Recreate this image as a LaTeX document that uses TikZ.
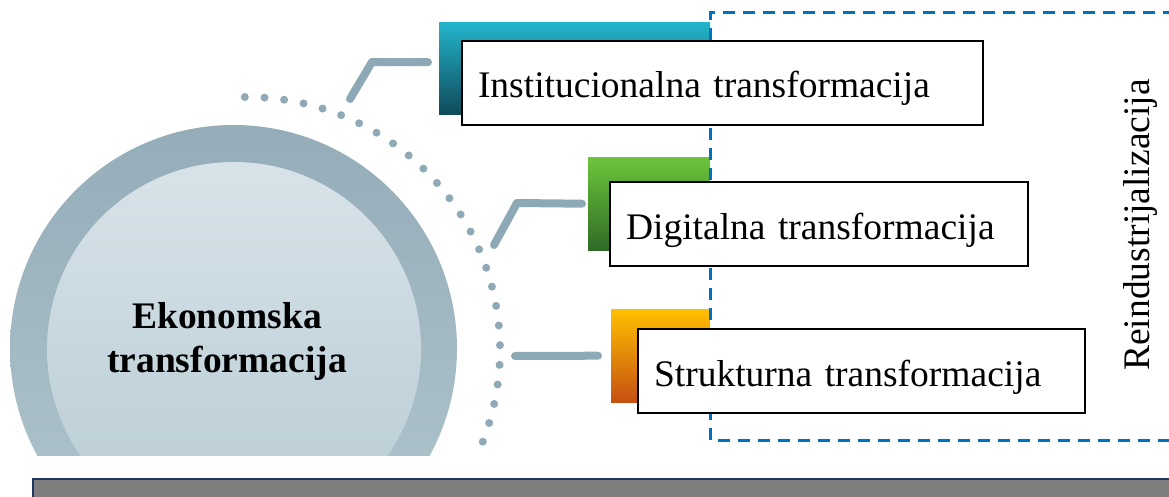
\documentclass[tikz,border=0pt]{standalone}
\usepackage{fontspec}
\setmainfont{Liberation Serif}
\definecolor{ringtop}{HTML}{94ADB9}
\definecolor{ringbot}{HTML}{B2C6CE}
\definecolor{innertop}{HTML}{D8E3E9}
\definecolor{innerbot}{HTML}{B6CAD3}
\definecolor{dotc}{HTML}{8FA9B6}
\definecolor{connc}{HTML}{8EA9B6}
\definecolor{tealtop}{HTML}{23B5CB}
\definecolor{tealbot}{HTML}{0F4A5A}
\definecolor{greentop}{HTML}{6DC53B}
\definecolor{greenbot}{HTML}{2F6B26}
\definecolor{orangetop}{HTML}{FFC000}
\definecolor{orangebot}{HTML}{C65012}
\definecolor{dashblue}{HTML}{0070C0}
\definecolor{barfill}{HTML}{7F7F7F}
\definecolor{barline}{HTML}{1F3864}
\tikzset{
  conn/.style={draw=connc, line width=8pt, line cap=round, line join=round},
  boxnode/.style={draw=black, line width=2pt, fill=white, anchor=north west,
    inner xsep=16pt, inner ysep=10pt, text height=47pt, text depth=17pt,
    align=left, font=\fontsize{37.5}{45}\selectfont},
  sqnode/.style={anchor=north west, inner sep=0pt, draw=none},
  bluedash/.style={draw=dashblue, line width=3pt, dash pattern=on 12pt off 8pt},
}
\begin{document}
\begin{tikzpicture}[x=1pt,y=-1pt]
\useasboundingbox (0,0) rectangle (1169,497);
\begin{scope}
\clip (0,0) rectangle (1169,497);
% central circle
\begin{scope}
\clip (0,0) rectangle (1169,455);
\node[circle, minimum size=447pt, inner sep=0pt, top color=ringtop, bottom color=ringbot] (outer) at (233.5,348.5) {};
\node[circle, minimum size=374pt, inner sep=0pt, top color=innertop, bottom color=innerbot] (inner) at (234,349) {};
\end{scope}
\node[align=center, font=\bfseries\fontsize{37.5}{44}\selectfont, inner sep=0pt] (ekon) at (227,341) {Ekonomska\\transformacija};
% dotted arc
\foreach \i in {0,...,25} {
  \fill[dotc] ({247+253*cos(90.5-4.47*\i)},{350-253*sin(90.5-4.47*\i)}) circle[radius=4pt];
}
% coloured squares
\node[sqnode, minimum width=271pt, minimum height=92pt, top color=tealtop, bottom color=tealbot] (s1) at (439,22) {};
\node[sqnode, minimum width=122pt, minimum height=93pt, top color=greentop, bottom color=greenbot] (s2) at (588,157) {};
\node[sqnode, minimum width=99pt, minimum height=93pt, top color=orangetop, bottom color=orangebot] (s3) at (611,309) {};
% dashed frame
\coordinate (dtr) at (1175,13);
\coordinate (dtl) at (710,13);
\coordinate (dbl) at (710,440);
\coordinate (dbr) at (1175,440);
\draw[bluedash] (dtr) -- (dtl) -- (dbl) -- (dbr);
% connectors
\coordinate (k1) at (350,99);
\coordinate (k2) at (494,245);
\coordinate (k3) at (515,356);
\draw[conn] (k1) -- (372,62) -- ([xshift=-11pt,yshift=6pt]s1.west);
\draw[conn] (k2) -- (517,203) -- ([xshift=-6pt]s2.west);
\draw[conn] (k3) -- ([xshift=-13pt]s3.west);
% boxes
\node[boxnode, text width=489pt] (b1) at (461,40) {Institucionalna transformacija};
\node[boxnode, text width=386pt] (b2) at (609,181) {Digitalna transformacija};
\node[boxnode, text width=415pt] (b3) at (637,328) {Strukturna transformacija};
% vertical label
\node[rotate=90, anchor=base west, inner sep=0pt, font=\fontsize{37.5}{45}\selectfont] (reind) at (1149,371) {Reindustrijalizacija};
% bottom bar
\draw[fill=barfill, draw=barline, line width=2pt] (33,479) rectangle (1185,515);
\end{scope}
\end{tikzpicture}
\end{document}
